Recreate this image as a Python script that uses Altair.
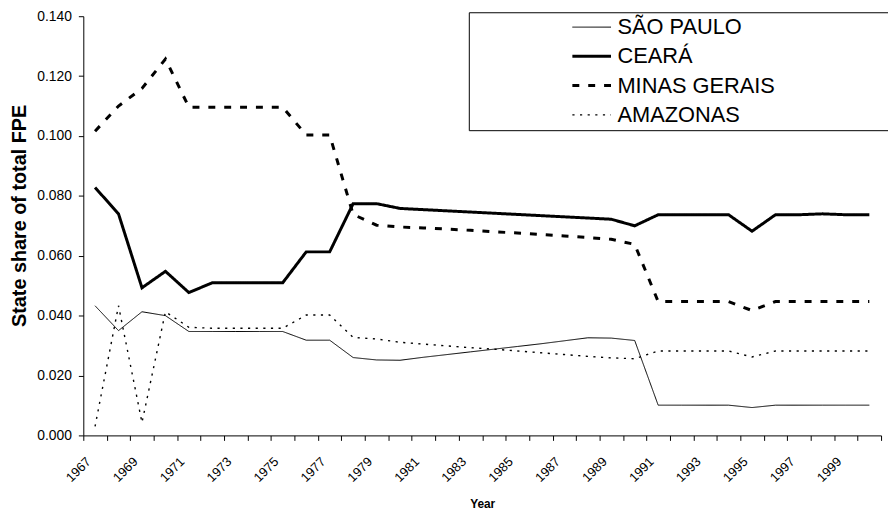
import altair as alt
import pandas as pd

years = list(range(1967, 2001))
states = ["SÃO PAULO", "CEARÁ", "MINAS GERAIS", "AMAZONAS"]

sao_paulo = [0.0433, 0.0350, 0.0413, 0.0400, 0.0347, 0.0347, 0.0347, 0.0347, 0.0347, 0.0318, 0.0318,
             0.0260, 0.0252, 0.0251, 0.0261, 0.0270, 0.0279, 0.0288, 0.0297, 0.0306, 0.0316, 0.0326, 0.0325, 0.0317,
             0.0101, 0.0101, 0.0101, 0.0101, 0.0093, 0.0101, 0.0101, 0.0101, 0.0101, 0.0101]
ceara = [0.0828, 0.0740, 0.0493, 0.0548, 0.0477, 0.0510, 0.0510, 0.0510, 0.0510, 0.0613, 0.0613,
         0.0774, 0.0774, 0.0758, 0.0754, 0.0750, 0.0746, 0.0742, 0.0738, 0.0734, 0.0730, 0.0726, 0.0722, 0.0700,
         0.0737, 0.0737, 0.0737, 0.0737, 0.0682, 0.0737, 0.0737, 0.0740, 0.0737, 0.0737]
minas_gerais = [0.1016, 0.1100, 0.1159, 0.1257, 0.1096, 0.1096, 0.1096, 0.1096, 0.1096, 0.1003, 0.1003,
                0.0738, 0.0702, 0.0696, 0.0693, 0.0689, 0.0685, 0.0680, 0.0676, 0.0671, 0.0666, 0.0661, 0.0655, 0.0638,
                0.0447, 0.0447, 0.0447, 0.0447, 0.0417, 0.0447, 0.0447, 0.0447, 0.0447, 0.0447]
amazonas = [0.0030, 0.0433, 0.0043, 0.0413, 0.0361, 0.0358, 0.0358, 0.0358, 0.0358, 0.0402, 0.0402,
            0.0327, 0.0322, 0.0311, 0.0305, 0.0299, 0.0293, 0.0288, 0.0282, 0.0276, 0.0270, 0.0264, 0.0259, 0.0256,
            0.0282, 0.0282, 0.0282, 0.0282, 0.0262, 0.0282, 0.0282, 0.0282, 0.0282, 0.0282]

series = {"SÃO PAULO": sao_paulo, "CEARÁ": ceara, "MINAS GERAIS": minas_gerais, "AMAZONAS": amazonas}
rows = []
for s in states:
    for y, v in zip(years, series[s]):
        rows.append({"year": y, "value": v, "state": s})
df = pd.DataFrame(rows)

FONT = "Liberation Sans"
boundaries = [1966.5 + i for i in range(len(years) + 1)]

legend = alt.Legend(
    orient="none", legendX=389, legendY=-4,
    title=" ", titleOrient="right", titlePadding=200, titleFontSize=1,
    symbolType="stroke", symbolSize=1521, symbolStrokeColor="black",
    symbolOffset=100, labelOffset=5, clipHeight=24,
    labelFont=FONT, labelFontSize=22, labelColor="black", labelLimit=400,
    strokeColor="black", padding=3, rowPadding=5.5,
)

chart = alt.Chart(df).mark_line(color="black").encode(
    x=alt.X("year:Q",
            scale=alt.Scale(domain=[1966.5, 2000.5], nice=False, zero=False),
            axis=alt.Axis(
                values=boundaries,
                labelExpr="((datum.value + 0.5 - 1967) % 2 == 0 && datum.value < 2000) ? '' + (datum.value + 0.5) : ''",
                labelAngle=-45, labelAlign="right", labelBaseline="middle",
                labelOffset=5, labelPadding=19, labelOverlap=False, labelFlush=False,
                labelFont=FONT, labelFontSize=13, labelColor="black",
                tickSize=5, tickColor="black", domainColor="black", grid=False,
                title="Year", titleFont=FONT, titleFontSize=12, titleFontWeight="bold",
                titleColor="black", titleY=69, titleBaseline="middle",
            )),
    y=alt.Y("value:Q",
            scale=alt.Scale(domain=[0, 0.14], nice=False),
            axis=alt.Axis(
                values=[0, 0.02, 0.04, 0.06, 0.08, 0.10, 0.12, 0.14], format=".3f",
                labelFont=FONT, labelFontSize=14, labelColor="black", labelPadding=7,
                tickSize=5, tickColor="black", domainColor="black", grid=False,
                title="State share of total FPE", titleFont=FONT, titleFontSize=20,
                titleFontWeight="bold", titleColor="black",
                titleX=-64, titleY=201, titleAngle=-90, titleAlign="center", titleBaseline="middle",
            )),
    strokeDash=alt.StrokeDash("state:N",
                              scale=alt.Scale(type="ordinal", domain=states,
                                              range=[[1, 0], [1, 0], [7, 9], [2.2, 5.5]]),
                              legend=legend),
    strokeWidth=alt.StrokeWidth("state:N",
                                scale=alt.Scale(type="ordinal", domain=states, range=[1, 3, 3, 1.4]),
                                legend=legend),
    detail="state:N",
).properties(
    width=805, height=423,
    padding={"left": 76, "top": 6, "right": 7, "bottom": 76},
    autosize=alt.AutoSizeParams(type="none"),
).configure_view(stroke=None)

chart.save("out.html", embed_options={"renderer": "svg", "actions": False})
